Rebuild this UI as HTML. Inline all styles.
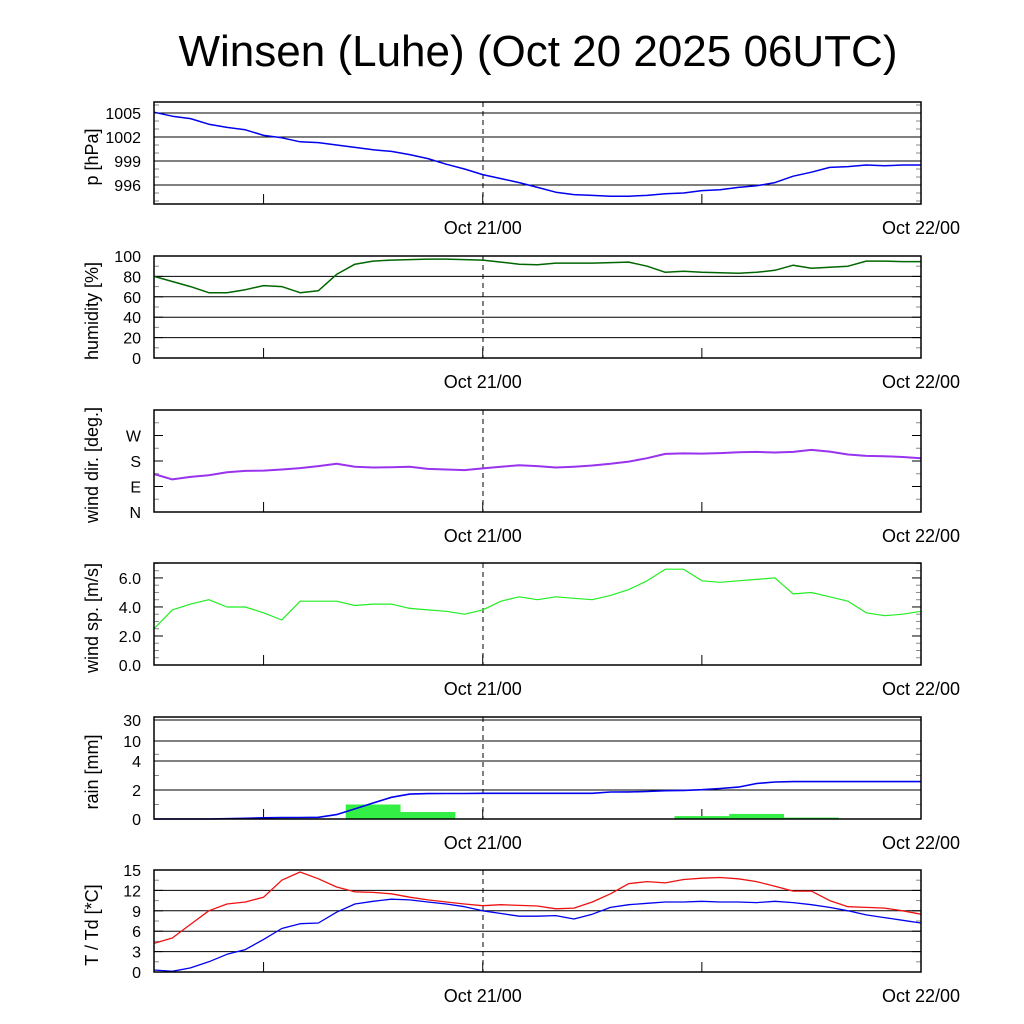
<!DOCTYPE html>
<html><head><meta charset="utf-8"><style>
html,body{margin:0;padding:0;background:#fff;}
svg{display:block;font-family:"Liberation Sans",sans-serif;}
</style></head><body>
<svg id="chart" width="1024" height="1024" xmlns="http://www.w3.org/2000/svg">
<text x="538" y="66" font-size="44" text-anchor="middle">Winsen (Luhe) (Oct 20 2025 06UTC)</text>
</svg>
<script>
const hours = [0,1,2,3,4,5,6,7,8,9,10,11,12,13,14,15,16,17,18,19,20,21,22,23,24,25,26,27,28,29,30,31,32,33,34,35,36,37,38,39,40,41,42];
const pressure = [1005.1,1004.6,1004.3,1003.6,1003.2,1002.9,1002.2,1001.9,1001.4,1001.3,1001.0,1000.7,1000.4,1000.2,999.8,999.3,998.6,998.0,997.3,996.8,996.3,995.7,995.1,994.8,994.7,994.6,994.6,994.7,994.9,995.0,995.3,995.4,995.7,995.9,996.3,997.1,997.6,998.2,998.3,998.5,998.4,998.5,998.5];
const humidity = [80,75,70,64,64,67,71,70,64,66,82,92,95,96,96.5,97,97,96.5,96,94,92,91.5,93,93,93,93.5,94,90,84,85,84,83.5,83,84,86,91,88,89,90,95,95,94.5,94.5];
const windDir = [134,115,124,130,140,145,146,150,155,162,170,160,157,158,160,152,150,148,154,160,165,162,157,160,164,170,178,190,205,207,206,208,211,212,210,212,219,213,203,198,197,194,190];
const windSpeed = [2.5,3.8,4.2,4.5,4.0,4.0,3.6,3.1,4.4,4.4,4.4,4.1,4.2,4.2,3.9,3.8,3.7,3.5,3.8,4.4,4.7,4.5,4.7,4.6,4.5,4.8,5.2,5.8,6.6,6.6,5.8,5.7,5.8,5.9,6.0,4.9,5.0,4.7,4.4,3.6,3.4,3.5,3.7];
const rainCum = [0,0,0,0,0.02,0.05,0.08,0.1,0.1,0.12,0.3,0.7,1.1,1.5,1.72,1.75,1.76,1.76,1.77,1.77,1.77,1.77,1.77,1.77,1.77,1.86,1.87,1.9,1.95,1.97,2.02,2.1,2.2,2.45,2.55,2.58,2.58,2.58,2.58,2.58,2.58,2.58,2.58];
const rainBarHours = [6,12,15,27,30,33,36];
const rainBarValues = [0.05,1.0,0.48,0.02,0.2,0.35,0.1];
const temperature = [4.2,5.0,7.0,9.0,10.0,10.3,11.0,13.5,14.7,13.7,12.5,11.8,11.7,11.5,11.0,10.6,10.3,10.0,9.75,9.9,9.8,9.7,9.3,9.4,10.3,11.5,13.0,13.3,13.1,13.6,13.8,13.9,13.7,13.3,12.6,11.9,11.9,10.5,9.6,9.5,9.4,9.0,8.5];
const dewpoint = [0.3,0.1,0.6,1.5,2.6,3.3,4.8,6.4,7.1,7.2,8.8,10.0,10.4,10.7,10.6,10.3,10.0,9.6,9.0,8.6,8.2,8.2,8.3,7.8,8.5,9.5,9.9,10.1,10.3,10.3,10.4,10.3,10.3,10.2,10.4,10.2,9.9,9.5,9.0,8.4,8.0,7.6,7.2];
const xTickHours = [6,18,30,42];
const xLabelHours = [18,42];
const xLabels = ["Oct 21/00","Oct 22/00"];
const pTicks = [1005,1002,999,996];
const hTicks = [0,20,40,60,80,100];
const dirTicks = [0,90,180,270];
const dirLabels = ["N","E","S","W"];
const wsTicks = [0,2,4,6];
const rainTicks = [0,2,4,10,30];
const tTicks = [0,3,6,9,12,15];

const NS="http://www.w3.org/2000/svg";
const svg=document.getElementById('chart');
const X0=154,X1=921,H0=0,H1=42;
const xs=h=>X0+(h-H0)/(H1-H0)*(X1-X0);
function el(tag,attrs,parent){const e=document.createElementNS(NS,tag);for(const k in attrs)e.setAttribute(k,attrs[k]);(parent||svg).appendChild(e);return e;}
function lin(d0,d1,r0,r1){return v=>r0+(v-d0)/(d1-d0)*(r1-r0);}
const rainPts=[[0,819],[2,790],[4,761],[10,741],[30,720],[40,717]];
function rainY(v){for(let i=0;i<rainPts.length-1;i++){const a=rainPts[i],b=rainPts[i+1];if(v<=b[0])return a[1]+(v-a[0])/(b[0]-a[0])*(b[1]-a[1]);}return 717;}

const panels=[
 {name:'pressure',top:102,bot:204,y:lin(993.625,1006.375,204,102),ticks:pTicks,labels:pTicks.map(String),grid:pTicks,minor:[994,995,997,998,1000,1001,1003,1004,1006],title:'p [hPa]'},
 {name:'humidity',top:256,bot:358,y:lin(0,100,358,256),ticks:hTicks,labels:hTicks.map(String),grid:[20,40,60,80],minor:[10,30,50,70,90],title:'humidity [%]'},
 {name:'wind-direction',top:410,bot:512,y:lin(0,360,512,410),ticks:dirTicks,labels:dirLabels,grid:[],minor:[45,135,225,315],title:'wind dir. [deg.]'},
 {name:'wind-speed',top:563,bot:665,y:lin(0,7.03,665,563),ticks:wsTicks,labels:wsTicks.map(v=>v.toFixed(1)),grid:[],minor:[1,3,5,7,0.5,1.5,2.5,3.5,4.5,5.5,6.5],title:'wind sp. [m/s]'},
 {name:'rain',top:717,bot:819,y:rainY,ticks:rainTicks,labels:rainTicks.map(String),grid:[2,4,10,30],minor:[1,3,6],title:'rain [mm]'},
 {name:'temperature',top:870,bot:972,y:lin(0,15,972,870),ticks:tTicks,labels:tTicks.map(String),grid:[3,6,9,12],minor:[1.5,4.5,7.5,10.5,13.5],title:'T / Td [*C]'}
];

function line(arr,yf,color,name,w){
  const d=arr.map((v,i)=>(i?'L':'M')+xs(hours[i]).toFixed(1)+','+yf(v).toFixed(1)).join('');
  const p=el('path',{d:d,fill:'none',stroke:color,'stroke-width':w||1.3,'stroke-linejoin':'round'});
  
  
}

panels.forEach(P=>{
  const g=el('g',{});
  
  
  P.grid.forEach(v=>{const l=el('line',{x1:X0,x2:X1,y1:P.y(v),y2:P.y(v),stroke:'#000','stroke-width':1},g);
    });
  P.minor.forEach(v=>{const y=P.y(v);if(y<P.top||y>P.bot)return;
    el('line',{x1:X0,x2:X0+5,y1:y,y2:y,stroke:'#888','stroke-width':1},g);
    el('line',{x1:X1-5,x2:X1,y1:y,y2:y,stroke:'#888','stroke-width':1},g);});
  P.ticks.forEach((v,i)=>{const y=P.y(v);
    el('line',{x1:X0,x2:X0+9,y1:y,y2:y,stroke:'#000','stroke-width':1},g);
    el('line',{x1:X1-9,x2:X1,y1:y,y2:y,stroke:'#000','stroke-width':1},g);
    const t=el('text',{x:141,y:y+6,'font-size':16,'text-anchor':'end'},g);t.textContent=P.labels[i];
    });
  const yt=el('text',{x:0,y:0,'font-size':18,'text-anchor':'middle',transform:`translate(98,${(P.top+P.bot)/2+4}) rotate(-90)`},g);
  yt.textContent=P.title;
  
  el('line',{x1:483,x2:483,y1:P.top,y2:P.bot,stroke:'#000','stroke-width':1,'stroke-dasharray':'5,4'},g);
  xTickHours.forEach(h=>{el('line',{x1:xs(h),x2:xs(h),y1:P.bot-10,y2:P.bot,stroke:'#000','stroke-width':1},g);});
  xLabelHours.forEach((h,i)=>{const t=el('text',{x:xs(h),y:P.bot+30,'font-size':18,'text-anchor':'middle'},g);t.textContent=xLabels[i];
    });
  P.g=g;
});

rainBarHours.forEach((h,i)=>{
  const y=rainY(rainBarValues[i]);
  const r=el('rect',{x:xs(h-1.5),y:y,width:xs(h+1.5)-xs(h-1.5),height:819-y,fill:'#33ee44'});
  
  
});
line(pressure,panels[0].y,'#0000ee','pressure-line',1.5);
line(humidity,panels[1].y,'#006600','humidity-line',1.5);
line(windDir,panels[2].y,'#9933ee','wind-direction-line',2);
line(windSpeed,panels[3].y,'#22ee22','wind-speed-line',1.2);
line(rainCum,rainY,'#0000ee','cumulative-rain-line',1.6);
line(temperature,panels[5].y,'#ee1111','temperature-line');
line(dewpoint,panels[5].y,'#0000ee','dewpoint-line');
panels.forEach(P=>{
  const f=el('rect',{x:X0,y:P.top,width:X1-X0,height:P.bot-P.top,fill:'none',stroke:'#000','stroke-width':1.5});
  
  
});
</script>
</body></html>
